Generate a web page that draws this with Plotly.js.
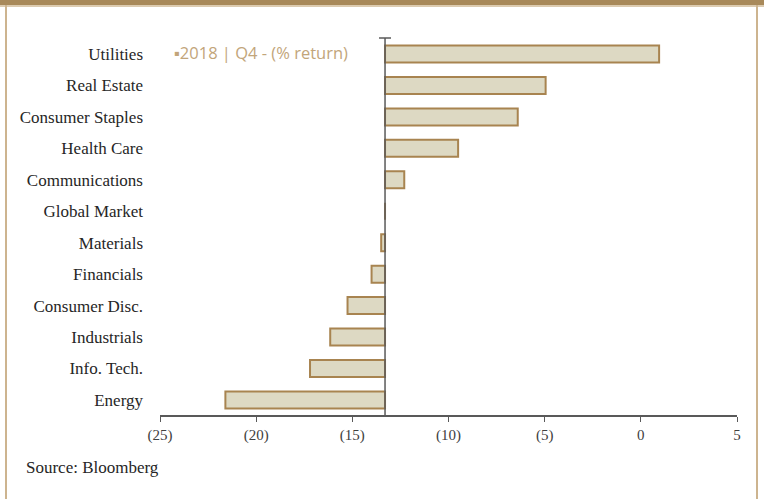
<!DOCTYPE html>
<html>
<head>
<meta charset="utf-8">
<script src="https://cdn.plot.ly/plotly-3.0.1.min.js"></script>
<style>
  html, body { margin: 0; padding: 0; background: #ffffff; }
  #wrap { position: relative; width: 764px; height: 499px; overflow: hidden; }
  #band { position: absolute; left: 0; top: 0; width: 764px; height: 5px; background: #a8895a; }
  #band2 { position: absolute; left: 0; top: 5px; width: 764px; height: 2px; background: #dccbb0; }
  #lb { position: absolute; left: 5px; top: 5px; width: 2px; height: 494px; background: #cdb48f; }
  #rb { position: absolute; left: 756px; top: 5px; width: 2px; height: 494px; background: #cdb48f; }
  #chart { position: absolute; left: 0; top: 0; width: 764px; height: 499px; }
</style>
</head>
<body>
<div id="wrap">
  <div id="band"></div><div id="band2"></div><div id="lb"></div><div id="rb"></div>
  <div id="chart"></div>
</div>
<script>
// Data (top to bottom)
const categories = ["Utilities", "Real Estate", "Consumer Staples", "Health Care", "Communications",
  "Global Market", "Materials", "Financials", "Consumer Disc.", "Industrials", "Info. Tech.", "Energy"];
const returns2018Q4 = [0.95, -4.95, -6.4, -9.5, -12.3, -13.3, -13.5, -14.0, -15.25, -16.15, -17.2, -21.6];
const globalMarket = -13.3;
const xTickVals = [-25, -20, -15, -10, -5, 0, 5];
const xTickText = ["(25)", "(20)", "(15)", "(10)", "(5)", "0", "5"];
const seriesName = "2018 | Q4 - (% return)";

const lengths = returns2018Q4.map(v => v - globalMarket);

const serif = "Liberation Serif, Times New Roman, serif";

const trace = {
  type: "bar",
  orientation: "h",
  y: categories,
  x: lengths,
  base: globalMarket,
  width: 0.54,
  marker: { color: "#ddd9c3", line: { color: "#a88450", width: 2 } },
  name: seriesName,
  showlegend: false,
  hoverinfo: "skip"
};

const layout = {
  width: 764, height: 499,
  margin: { l: 160, r: 27, t: 38, b: 84 },
  paper_bgcolor: "rgba(0,0,0,0)",
  plot_bgcolor: "rgba(0,0,0,0)",
  showlegend: false,
  xaxis: {
    range: [-25, 5],
    tickvals: xTickVals,
    ticktext: xTickText,
    showgrid: false,
    zeroline: false,
    showline: true,
    linecolor: "#595959",
    linewidth: 1.5,
    ticks: "outside",
    ticklen: 5,
    tickcolor: "#595959",
    tickfont: { family: serif, size: 15, color: "#404040" }
  },
  yaxis: {
    type: "category",
    categoryorder: "array",
    categoryarray: categories,
    range: [11.48, -0.51],
    showgrid: false,
    zeroline: false,
    showline: false,
    ticks: "",
    ticklabelstandoff: 16,
    tickfont: { family: serif, size: 17, color: "#262626" }
  },
  shapes: [
    { type: "line", xref: "x", yref: "paper", x0: globalMarket, x1: globalMarket, y0: 0, y1: 1,
      line: { color: "#595959", width: 1.5 } },
    { type: "line", xref: "x", yref: "paper", xsizemode: "pixel", xanchor: globalMarket,
      x0: -6, x1: 6, y0: 1, y1: 1, line: { color: "#595959", width: 1.5 } }
  ],
  annotations: [
    { xref: "paper", yref: "paper", x: 0.02, y: 0.962, xanchor: "left", yanchor: "middle",
      text: "▪" + seriesName, showarrow: false,
      font: { family: "Open Sans, Liberation Sans, sans-serif", size: 16.5, color: "#c2a57a" } },
    { xref: "paper", yref: "paper", x: -0.235, y: -0.138, xanchor: "left", yanchor: "middle",
      text: "Source: Bloomberg", showarrow: false,
      font: { family: serif, size: 17, color: "#262626" } }
  ]
};

Plotly.newPlot("chart", [trace], layout, { displayModeBar: false, staticPlot: true });
</script>
</body>
</html>
